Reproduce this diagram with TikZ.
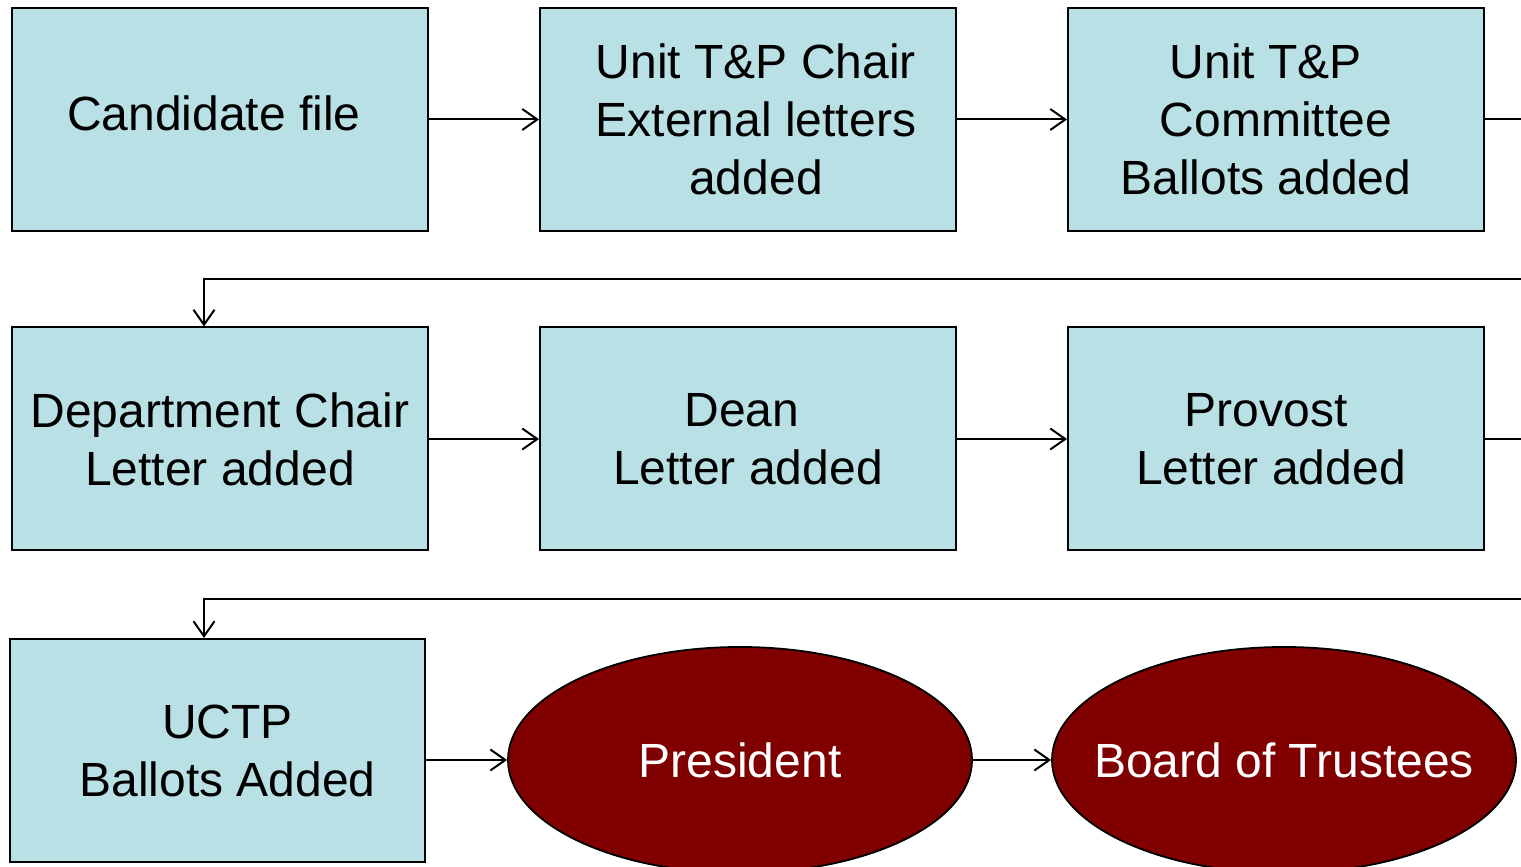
\documentclass[tikz,border=0pt]{standalone}
\usepackage{fontspec}
\setmainfont{Liberation Sans}
\usetikzlibrary{arrows.meta,shapes.geometric}
\definecolor{boxfill}{RGB}{185,224,228}
\definecolor{darkred}{RGB}{128,0,0}
\begin{document}
\begin{tikzpicture}[x=1pt,y=1pt,
 stepbox/.style={draw=black,line width=2pt,fill=boxfill,minimum width=416pt,minimum height=223pt,inner sep=2pt,align=center,font=\fontsize{48}{58}\selectfont},
 oval/.style={ellipse,draw=black,line width=1.8pt,fill=darkred,text=white,minimum width=464pt,minimum height=226pt,inner xsep=-40pt,inner ysep=0pt,align=center,font=\fontsize{48}{58}\selectfont},
 conn/.style={line width=2pt,-{Straight Barb[length=15pt,width=21pt,line width=2pt]}},
 plainline/.style={line width=2pt}]
\useasboundingbox (0,0) rectangle (1521,867);
\clip (0,0) rectangle (1521,867);
\fill[white] (0,0) rectangle (1521,867);
\node[stepbox] (b1) at (220,747.5) {\raisebox{13pt}{Candidate file}\hspace*{12pt}};
\node[stepbox] (b2) at (748,747.5) {\hspace*{16pt}Unit T\&P Chair\\\hspace*{16pt}External letters\\\hspace*{16pt}added};
\node[stepbox] (b3) at (1276,747.5) {Unit T\&P\hspace*{20pt}\\Committee\hspace*{20pt}\\Ballots added\hspace*{20pt}};
\node[stepbox] (b4) at (220,428) {Department Chair\\Letter added};
\node[stepbox] (b5) at (748,428) {Dean\hspace*{12pt}\\Letter added};
\node[stepbox] (b6) at (1276,428) {Provost\hspace*{20pt}\\Letter added\hspace*{10pt}};
\node[stepbox,minimum width=415pt] (b7) at (217.5,116.5) {\hspace*{20pt}UCTP\\\hspace*{20pt}Ballots Added};
\node[oval] (e1) at (740,107) {President};
\node[oval] (e2) at (1284,107) {Board of Trustees};
\coordinate (r1) at (1521,747.5);
\coordinate (r1b) at (1521,588);
\coordinate (d1) at (204,588);
\coordinate (r2) at (1521,428);
\coordinate (r2b) at (1521,268);
\coordinate (d2) at (204,268);
\draw[conn] (b1) -- (b2);
\draw[conn] (b2) -- (b3);
\draw[plainline] (b3.east) -- (r1);
\draw[conn] (r1b) -- (d1) -- (d1 |- b4.north);
\draw[conn] (b4) -- (b5);
\draw[conn] (b5) -- (b6);
\draw[plainline] (b6.east) -- (r2);
\draw[conn] (r2b) -- (d2) -- (d2 |- b7.north);
\draw[conn] (b7.east |- e1.west) -- (e1.west);
\draw[conn] (e1) -- (e2);
\end{tikzpicture}
\end{document}
